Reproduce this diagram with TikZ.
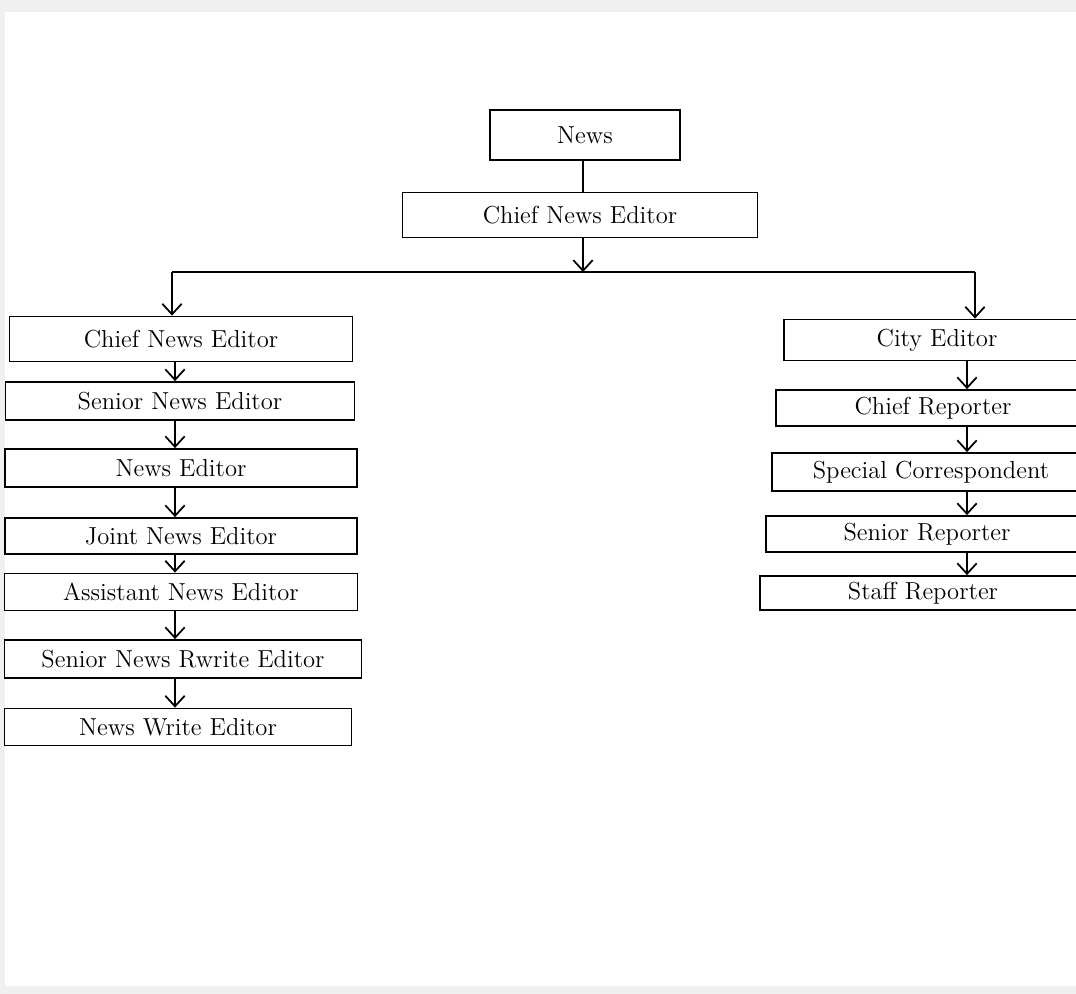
\documentclass[tikz,border=0pt]{standalone}
\usepackage{tikz}
\usetikzlibrary{arrows, arrows.meta, positioning, calc}

\begin{document}
\begin{tikzpicture}[
    x=0.02cm, y=-0.02cm,
    font=\fontsize{14}{17}\selectfont,
    box/.style={rectangle, draw, line width=1pt, minimum height=0.76cm, inner sep=2pt, align=center},
    leftbox/.style={box, minimum width=7cm},
    rightbox/.style={box, minimum width=6.3cm},
    arrow/.style={-{Straight Barb[length=6pt,width=11pt]}, line width=1pt},
    link/.style={line width=1pt}
]

\fill[gray!12] (0,0) rectangle (1076,994);
\fill[white] (5,12) rectangle (1076,986);
\clip (0,0) rectangle (1076,994);

% top of the chart
\node[box, minimum width=3.8cm, minimum height=1cm] (news) at (585,135) {News};
\node[box, minimum width=7.1cm, minimum height=0.9cm] (chief) at (580,215) {Chief News Editor};
\coordinate (hub) at (583,272);
\coordinate (lturn) at (172,272);
\coordinate (rturn) at (975,272);

% left column
\node[leftbox, minimum width=6.86cm, minimum height=0.9cm] (l1) at (181,339) {Chief News Editor};
\node[leftbox, minimum width=6.98cm] (l2) at (180,401) {Senior News Editor};
\node[leftbox, minimum width=7.04cm] (l3) at (181,468) {News Editor};
\node[leftbox, minimum width=7.04cm, minimum height=0.72cm] (l4) at (181,536) {Joint News Editor};
\node[leftbox, minimum width=7.06cm, minimum height=0.74cm] (l5) at (181,592) {Assistant News Editor};
\node[leftbox, minimum width=7.14cm] (l6) at (183,659) {Senior News Rwrite Editor};
\node[leftbox, minimum width=6.94cm, minimum height=0.74cm] (l7) at (178,727) {News Write Editor};

% right column (runs off the page edge)
\node[rightbox, minimum width=6.12cm, minimum height=0.82cm] (r1) at (937,340) {City Editor};
\node[rightbox, minimum width=6.28cm, minimum height=0.72cm] (r2) at (933,408) {Chief Reporter};
\node[rightbox, minimum width=6.36cm] (r3) at (931,472) {Special Correspondent};
\node[rightbox, minimum width=6.44cm, minimum height=0.72cm] (r4) at (927,534) {Senior Reporter};
\node[rightbox, minimum width=6.52cm, minimum height=0.68cm] (r5) at (923,593) {Staff Reporter};
\coordinate (lx) at (175,0);
\coordinate (rx) at (967,0);

\draw[link] (news.south -| hub) -- (chief.north -| hub);
\draw[arrow] (chief.south -| hub) -- (hub);
\draw[link] (lturn) -- (rturn);
\draw[arrow] (lturn) -- (lturn |- l1.north);
\draw[arrow] (rturn) -- (rturn |- r1.north);

\draw[arrow] (l1.south -| lx) -- (l2.north -| lx);
\draw[arrow] (l2.south -| lx) -- (l3.north -| lx);
\draw[arrow] (l3.south -| lx) -- (l4.north -| lx);
\draw[arrow] (l4.south -| lx) -- (l5.north -| lx);
\draw[arrow] (l5.south -| lx) -- (l6.north -| lx);
\draw[arrow] (l6.south -| lx) -- (l7.north -| lx);

\draw[arrow] (r1.south -| rx) -- (r2.north -| rx);
\draw[arrow] (r2.south -| rx) -- (r3.north -| rx);
\draw[arrow] (r3.south -| rx) -- (r4.north -| rx);
\draw[arrow] (r4.south -| rx) -- (r5.north -| rx);

\end{tikzpicture}
\end{document}
